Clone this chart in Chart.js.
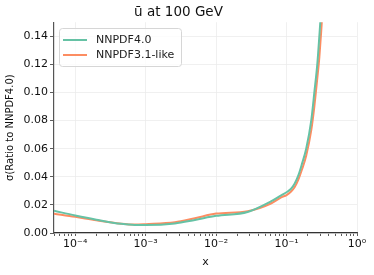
<!DOCTYPE html>
<html>
<head>
<meta charset="utf-8">
<script src="https://cdn.jsdelivr.net/npm/chart.js@4"></script>
<style>
  html, body { margin: 0; padding: 0; background: #fff; }
  #wrap { width: 374px; height: 275px; }
</style>
</head>
<body>
<div id="wrap"><canvas id="pdfChart" width="374" height="275"></canvas></div>
<script>
// x grid and the two uncertainty curves
const xValues = [5e-5, 1e-4, 2e-4, 4.5e-4, 7e-4, 1e-3, 2.6e-3, 5e-3, 1e-2, 0.028, 0.06, 0.085, 0.1, 0.116, 0.13, 0.147, 0.165, 0.19, 0.224, 0.248, 0.273, 0.292, 0.31, 0.34];
const nnpdf40 = [0.0158, 0.0125, 0.0095, 0.0065, 0.0057, 0.0057, 0.0068, 0.0093, 0.0122, 0.015, 0.0225, 0.027, 0.029, 0.0315, 0.035, 0.041, 0.049, 0.060, 0.080, 0.100, 0.120, 0.140, 0.160, 0.20];
const nnpdf31 = [0.0137, 0.0115, 0.009, 0.0066, 0.006, 0.0063, 0.0076, 0.0105, 0.0138, 0.0155, 0.021, 0.0255, 0.027, 0.0295, 0.0325, 0.038, 0.045, 0.055, 0.073, 0.090, 0.110, 0.125, 0.143, 0.175];
const seriesNames = ["NNPDF4.0", "NNPDF3.1-like"];
const yTicks = [0, 0.02, 0.04, 0.06, 0.08, 0.10, 0.12, 0.14];

const FONT = "'DejaVu Sans', sans-serif";
const supers = { "-": "\u207B", "0": "\u2070", "1": "\u00B9", "2": "\u00B2", "3": "\u00B3", "4": "\u2074" };
const isMajor = v => Math.abs(Math.log10(v) - Math.round(Math.log10(v))) < 1e-9;
const sciLabel = v => "10" + String(Math.round(Math.log10(v))).split("").map(c => supers[c]).join("");

// all ticks for the log axis: decades + minor 2..9
const xTickVals = [];
for (let e = -5; e <= 0; e++) {
  for (let k = 1; k <= 9; k++) {
    const v = k * Math.pow(10, e);
    if (v >= 5e-5 - 1e-12 && v <= 1 + 1e-12) xTickVals.push(v);
  }
}

// framed legend drawn in the top-left corner of the plot
const boxLegend = {
  id: "boxLegend",
  afterDraw(chart) {
    const ctx = chart.ctx;
    const ds = chart.data.datasets;
    const x0 = 59, y0 = 28, w = 122, h = 38, r = 3;
    ctx.save();
    ctx.beginPath();
    ctx.roundRect(x0 + 0.5, y0 + 0.5, w, h, r);
    ctx.fillStyle = "rgba(255,255,255,0.8)";
    ctx.fill();
    ctx.strokeStyle = "#d6d6d6";
    ctx.lineWidth = 1;
    ctx.stroke();
    ctx.font = "11px " + FONT;
    ctx.textBaseline = "middle";
    ds.forEach((d, i) => {
      const yy = y0 + 12 + i * 15;
      ctx.strokeStyle = d.borderColor;
      ctx.lineWidth = 2;
      ctx.beginPath();
      ctx.moveTo(x0 + 4, yy);
      ctx.lineTo(x0 + 28, yy);
      ctx.stroke();
      ctx.fillStyle = "#222";
      ctx.fillText(d.label, x0 + 37, yy);
    });
    ctx.restore();
  }
};

new Chart(document.getElementById("pdfChart"), {
  type: "line",
  data: {
    datasets: [
      {
        label: seriesNames[0],
        data: xValues.map((x, i) => ({ x: x, y: nnpdf40[i] })),
        borderColor: "#66c2a5",
        borderWidth: 2,
        pointRadius: 0,
        cubicInterpolationMode: "monotone"
      },
      {
        label: seriesNames[1],
        data: xValues.map((x, i) => ({ x: x, y: nnpdf31[i] })),
        borderColor: "#fc8d62",
        borderWidth: 2,
        pointRadius: 0,
        cubicInterpolationMode: "monotone"
      }
    ]
  },
  options: {
    responsive: false,
    animation: false,
    layout: { padding: { left: 0, right: 17, top: 0, bottom: 0 } },
    plugins: {
      legend: { display: false },
      tooltip: { enabled: false },
      title: {
        display: true,
        text: "\u016B at 100 GeV",
        color: "#111",
        font: { family: FONT, size: 13.5, weight: "normal" },
        padding: { top: 4, bottom: 2 }
      }
    },
    scales: {
      x: {
        type: "logarithmic",
        min: 5e-5,
        max: 1,
        afterBuildTicks: s => { s.ticks = xTickVals.map(v => ({ value: v, major: isMajor(v) })); },
        afterFit: s => { s.height = 42; },
        ticks: {
          autoSkip: false,
          maxRotation: 0,
          padding: 2,
          color: "#111",
          font: { family: FONT, size: 11 },
          callback: v => isMajor(v) ? sciLabel(v) : ""
        },
        grid: {
          color: c => (c.tick && isMajor(c.tick.value)) ? "#ececec" : "rgba(0,0,0,0)",
          lineWidth: 0.8,
          tickColor: "#333",
          tickLength: 3
        },
        border: { color: "#333", width: 1.2 },
        title: {
          display: true,
          text: "x",
          color: "#111",
          font: { family: FONT, size: 11 },
          padding: { top: 0, bottom: 6 }
        }
      },
      y: {
        min: 0,
        max: 0.15,
        afterBuildTicks: s => { s.ticks = yTicks.map(v => ({ value: v })); },
        afterFit: s => { s.width = 54; },
        ticks: {
          padding: 2,
          color: "#111",
          font: { family: FONT, size: 11 },
          callback: v => v.toFixed(2)
        },
        grid: {
          color: "#ececec",
          lineWidth: 0.8,
          tickColor: "#333",
          tickLength: 4
        },
        border: { color: "#555", width: 1.2 },
        title: {
          display: true,
          text: "\u03C3(Ratio to NNPDF4.0)",
          color: "#111",
          font: { family: FONT, size: 10 },
          padding: { top: 4, bottom: 0 }
        }
      }
    }
  },
  plugins: [boxLegend]
});
</script>
</body>
</html>
